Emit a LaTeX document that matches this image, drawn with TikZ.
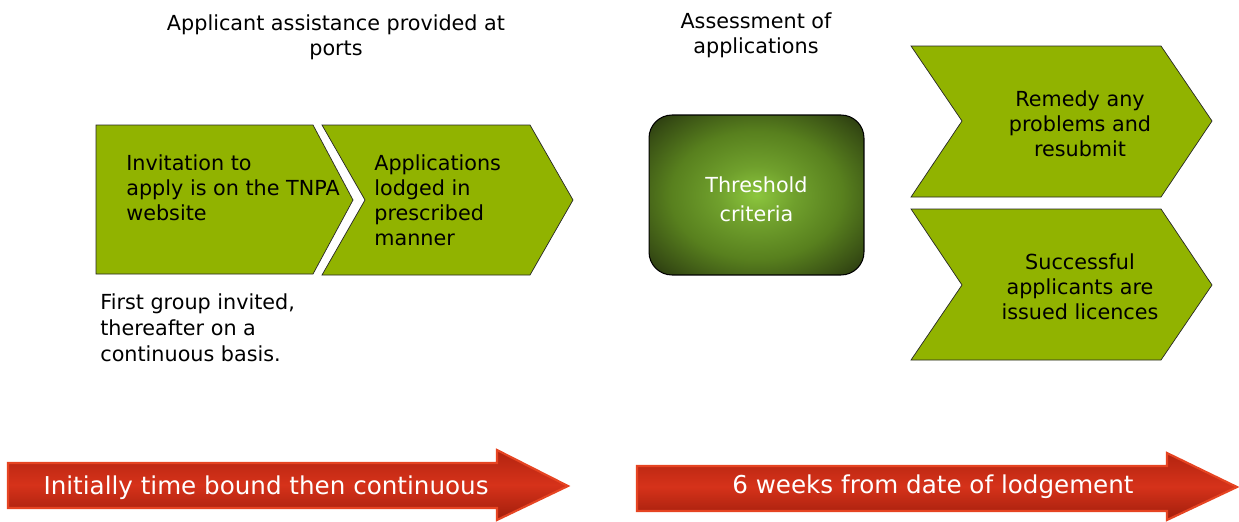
\documentclass[tikz,border=0pt]{standalone}
\usepackage{fontspec}
\setmainfont{DejaVu Sans}
\usetikzlibrary{positioning, calc}
\definecolor{chevgreen}{RGB}{145,179,0}
\definecolor{critlight}{RGB}{140,198,62}
\definecolor{critmid}{RGB}{88,128,30}
\definecolor{critdark}{RGB}{36,48,14}
\definecolor{bandred}{RGB}{214,50,26}
\definecolor{bandtop}{RGB}{178,36,16}
\definecolor{bandbot}{RGB}{160,30,12}
\definecolor{bandedge}{RGB}{230,68,34}
\pgfdeclareradialshading{critglow}{\pgfpoint{0cm}{0cm}}{color(0bp)=(critlight); color(9bp)=(critmid!55!critlight); color(20bp)=(critmid); color(30bp)=(critdark!60!critmid); color(36bp)=(critdark); color(70bp)=(critdark)}

\begin{document}
\begin{tikzpicture}[x=0.02cm, y=-0.02cm,
    chev/.style={fill=chevgreen, draw=black!85, line width=0.4pt},
    txt/.style={font=\fontsize{11.8}{14.2}\selectfont, inner sep=0pt, align=left},
    ctxt/.style={txt, align=center},
    crit/.style={draw=black, line width=0.6pt, rounded corners=0.46cm, shading=critglow, minimum width=4.3cm, minimum height=3.2cm},
    crittxt/.style={text=white, inner sep=0pt, font=\fontsize{11.8}{16.4}\selectfont, align=center},
    band/.style={draw=bandedge, line width=1.2pt, top color=bandtop, bottom color=bandbot, middle color=bandred},
    bandtxt/.style={text=white, inner sep=0pt, font=\fontsize{14}{16}\selectfont}
]
    \useasboundingbox (0,0) rectangle (1239,521);

    % chevrons on the left
    \draw[chev] (96,125) -- (313,125) -- (353,200) -- (313,274) -- (96,274) -- cycle;
    \draw[chev] (322,125) -- (530,125) -- (573,200) -- (530,275) -- (322,275) -- (365,200) -- cycle;

    % outcome chevrons
    \draw[chev] (911,46) -- (1161,46) -- (1212,121) -- (1161,197) -- (911,197) -- (962,121) -- cycle;
    \draw[chev] (911,209) -- (1161,209) -- (1212,285) -- (1161,360) -- (911,360) -- (962,285) -- cycle;

    % time bands
    \draw[band] (8,463) -- (497,463) -- (497,450) -- (568,486) -- (497,520) -- (497,508) -- (8,508) -- cycle;
    \draw[band] (637,466) -- (1167,466) -- (1167,453) -- (1237,487) -- (1167,520) -- (1167,511) -- (637,511) -- cycle;

    \node[ctxt] (assist) at (336,37) {Applicant assistance provided at\\ports};
    \node[ctxt] (assess) at (756,35) {Assessment of\\applications};

    \node[txt, anchor=west] (invite) at (126,188) {Invitation to\\apply is on the TNPA\\website};
    \node[txt, anchor=west] (lodged) at (374,200) {Applications\\lodged in\\prescribed\\manner};
    \node[txt, anchor=west, font=\fontsize{11.8}{14.8}\selectfont] (group) at (100,328) {First group invited,\\thereafter on a\\continuous basis.};

    \node[crit] (criteria) at (756.5,195) {};
    \node[crittxt] (critlabel) at ($(criteria)+(0,4)$) {Threshold\\criteria};

    \node[ctxt] (remedy) at (1080,124) {Remedy any\\problems and\\resubmit};
    \node[ctxt] (issued) at (1080,287) {Successful\\applicants are\\issued licences};

    \node[bandtxt] (bound) at (266,488) {Initially time bound then continuous};
    \node[bandtxt] (weeks) at (933,487) {6 weeks from date of lodgement};
\end{tikzpicture}
\end{document}
